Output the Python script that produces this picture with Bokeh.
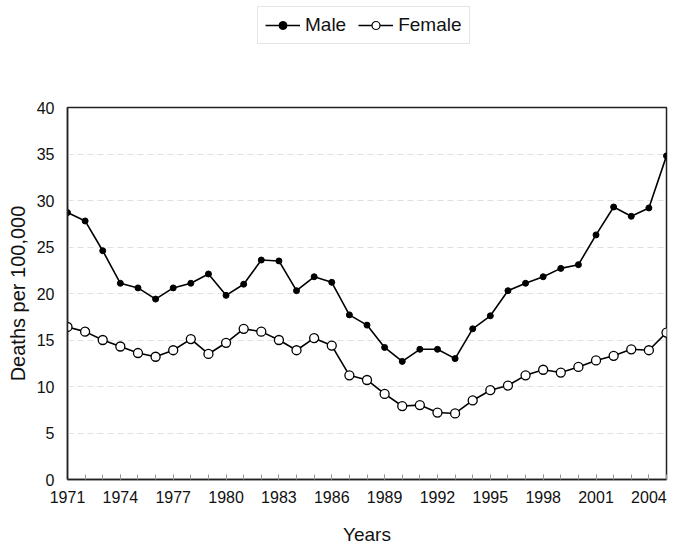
from bokeh.plotting import figure
from bokeh.layouts import column
from bokeh.models import Legend, LegendItem, FixedTicker, Range1d
from bokeh.embed import file_html
from bokeh.resources import INLINE

years = list(range(1971, 2006))
male = [28.7, 27.8, 24.6, 21.1, 20.6, 19.4, 20.6, 21.1, 22.1, 19.8,
        21.0, 23.6, 23.5, 20.3, 21.8, 21.2, 17.7, 16.6, 14.2, 12.7,
        14.0, 14.0, 13.0, 16.2, 17.6, 20.3, 21.1, 21.8, 22.7, 23.1,
        26.3, 29.3, 28.3, 29.2, 34.8]
female = [16.4, 15.9, 15.0, 14.3, 13.6, 13.2, 13.9, 15.1, 13.5, 14.7,
          16.2, 15.9, 15.0, 13.9, 15.2, 14.4, 11.2, 10.7, 9.2, 7.9,
          8.0, 7.2, 7.1, 8.5, 9.6, 10.1, 11.2, 11.8, 11.5, 12.1,
          12.8, 13.3, 14.0, 13.9, 15.8]
x_ticks = list(range(1971, 2005, 3))
y_ticks = [0, 5, 10, 15, 20, 25, 30, 35, 40]

FONT = "Liberation Sans"

# ---- legend strip (top) ----
lg = figure(width=680, height=100, output_backend="svg", toolbar_location=None,
            x_axis_type=None, y_axis_type=None,
            x_range=Range1d(0, 1), y_range=Range1d(0, 1), min_border=0)
lg.outline_line_color = None
lg.xgrid.grid_line_color = None
lg.ygrid.grid_line_color = None
lml = lg.line(years, male, line_color="black", line_width=1.4)
lms = lg.scatter(years, male, size=5, fill_color="black", line_color="black")
lfl = lg.line(years, female, line_color="black", line_width=1.4)
lfs = lg.scatter(years, female, size=6, fill_color="white", line_color="black", line_width=1.2)
legend = Legend(items=[LegendItem(label="Male", renderers=[lml, lms]),
                       LegendItem(label="Female", renderers=[lfl, lfs])],
                orientation="horizontal", location=(190, 56),
                label_text_font=FONT, label_text_font_size="19px",
                label_text_color="#111111",
                border_line_color="#cccccc", glyph_width=35, spacing=12,
                padding=7, margin=0, label_standoff=5)
lg.add_layout(legend, "center")

# ---- main chart ----
p = figure(width=680, height=457, output_backend="svg", toolbar_location=None,
           x_range=Range1d(1971, 2005), y_range=Range1d(0, 40),
           min_border_left=67, min_border_right=14, min_border_top=7,
           min_border_bottom=78)

p.outline_line_color = "#222222"
p.outline_line_width = 1.5
p.xgrid.grid_line_color = None
p.ygrid.grid_line_color = "#e0e0e0"
p.ygrid.grid_line_dash = "6 4"

p.xaxis.ticker = FixedTicker(ticks=x_ticks, minor_ticks=years)
p.yaxis.ticker = FixedTicker(ticks=y_ticks)
for ax in (p.xaxis[0], p.yaxis[0]):
    ax.axis_line_color = "#222222"
    ax.axis_line_width = 1.5
    ax.major_label_text_font = FONT
    ax.major_label_text_font_size = "16px"
    ax.major_label_text_color = "#111111"
    ax.axis_label_text_font = FONT
    ax.axis_label_text_font_style = "normal"
    ax.axis_label_text_color = "#111111"
p.xaxis.major_tick_in = 5
p.xaxis.major_tick_out = 0
p.xaxis.minor_tick_in = 5
p.xaxis.minor_tick_out = 0
p.xaxis.major_tick_line_color = "#999999"
p.xaxis.minor_tick_line_color = "#999999"
p.yaxis.major_tick_in = 0
p.yaxis.major_tick_out = 0
p.yaxis.minor_tick_line_color = None
p.xaxis.major_label_standoff = 11
p.yaxis.major_label_standoff = 13
p.xaxis.axis_label = "Years"
p.yaxis.axis_label = "Deaths per 100,000"
p.xaxis.axis_label_text_font_size = "19px"
p.yaxis.axis_label_text_font_size = "20px"
p.xaxis.axis_label_standoff = 18
p.yaxis.axis_label_standoff = 5

p.line(years, male, line_color="black", line_width=1.6)
p.scatter(years, male, size=6, fill_color="black", line_color="black")
p.line(years, female, line_color="black", line_width=1.6)
p.scatter(years, female, size=9, fill_color="white", line_color="black", line_width=1.3)

layout = column(lg, p, spacing=0)
open("out.html", "w").write(file_html(layout, INLINE))
